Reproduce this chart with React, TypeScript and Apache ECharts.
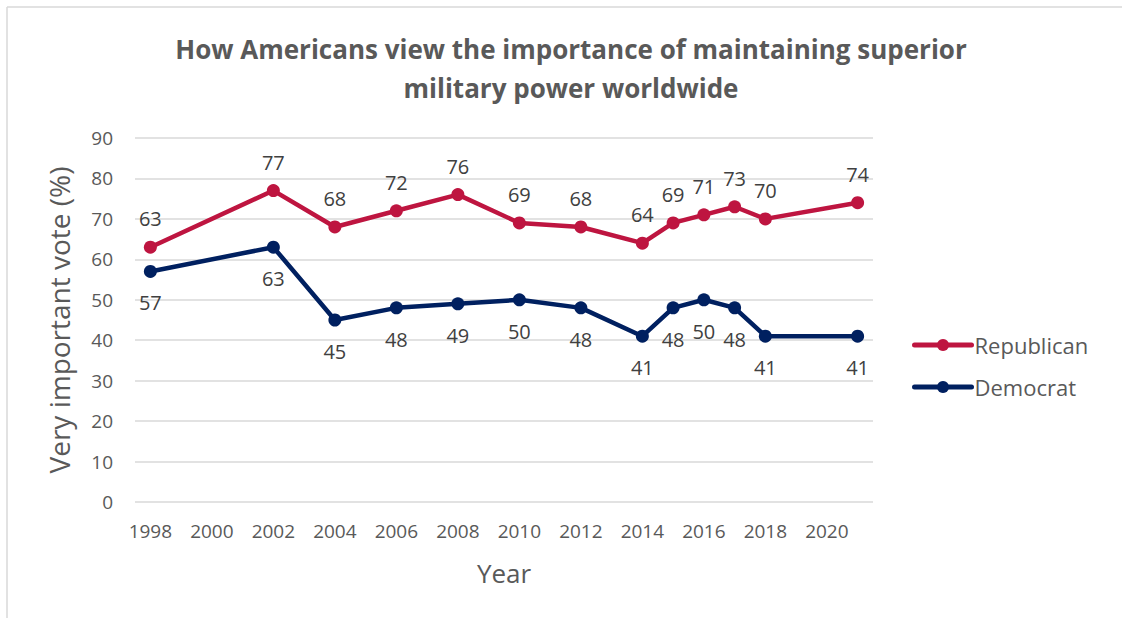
import React, { useEffect, useRef } from "react";
import * as echarts from "echarts";

const years = [1998, 2002, 2004, 2006, 2008, 2010, 2012, 2014, 2015, 2016, 2017, 2018, 2021];
const republican = [63, 77, 68, 72, 76, 69, 68, 64, 69, 71, 73, 70, 74];
const democrat = [57, 63, 45, 48, 49, 50, 48, 41, 48, 50, 48, 41, 41];
const xTickLabels = [1998, 2000, 2002, 2004, 2006, 2008, 2010, 2012, 2014, 2016, 2018, 2020];

const FONT = "'Open Sans', 'Noto Sans', sans-serif";
const GRAY = "#595959";

export default function App() {
  const ref = useRef<HTMLDivElement>(null);
  useEffect(() => {
    if (!ref.current) return;
    const chart = echarts.init(ref.current, undefined, { renderer: "svg" });
    const mk = (arr: number[]) => years.map((y, i) => [y, arr[i]]);
    chart.setOption({
      animation: false,
      backgroundColor: "#ffffff",
      textStyle: { fontFamily: FONT },
      title: {
        text: "How Americans view the importance of maintaining superior\nmilitary power worldwide",
        left: 566,
        textAlign: "center",
        top: 24,
        textStyle: {
          fontFamily: FONT,
          fontWeight: "bold",
          fontSize: 26,
          color: GRAY,
          lineHeight: 39,
        },
      },
      graphic: [
        { type: "line", shape: { x1: 7, y1: 7, x2: 1122, y2: 7 }, style: { stroke: "#d9d9d9", lineWidth: 1.5 } },
        { type: "line", shape: { x1: 7, y1: 7, x2: 7, y2: 618 }, style: { stroke: "#d9d9d9", lineWidth: 1.5 } },
      ],
      legend: {
        orient: "vertical",
        left: 907,
        top: 329,
        itemGap: 20,
        itemWidth: 57,
        itemHeight: 15,
        lineStyle: { width: 5, cap: "round" },
        textStyle: { fontFamily: FONT, fontSize: 22, color: GRAY, padding: [0, 0, 0, -2] },
        data: ["Republican", "Democrat"],
      },
      grid: { left: 135, right: 249, top: 138, bottom: 116 },
      xAxis: {
        type: "value",
        min: 1997.5,
        max: 2021.5,
        name: "Year",
        nameLocation: "middle",
        nameGap: 58,
        nameTextStyle: { fontFamily: FONT, fontSize: 26, color: GRAY },
        axisLine: { show: false },
        axisTick: { show: false },
        splitLine: { show: false },
        axisLabel: {
          customValues: xTickLabels,
          fontFamily: FONT,
          fontSize: 19,
          color: GRAY,
          margin: 19,
          formatter: (v: number) => String(v),
        },
      },
      yAxis: {
        type: "value",
        min: 0,
        max: 90,
        interval: 10,
        name: "Very important vote (%)",
        nameLocation: "middle",
        nameGap: 62,
        nameTextStyle: { fontFamily: FONT, fontSize: 28, color: GRAY },
        axisLine: { show: false },
        axisTick: { show: false },
        axisLabel: { fontFamily: FONT, fontSize: 19, color: GRAY, margin: 22 },
        splitLine: { lineStyle: { color: "#d9d9d9", width: 1.5 } },
      },
      series: [
        {
          name: "Republican",
          type: "line",
          data: mk(republican),
          symbol: "circle",
          symbolSize: 13,
          lineStyle: { width: 4.5, color: "#be1540" },
          itemStyle: { color: "#be1540" },
          label: {
            show: true,
            position: "top",
            distance: 12,
            fontFamily: FONT,
            fontSize: 20,
            color: "#404040",
            formatter: (p: any) => String(p.value[1]),
          },
        },
        {
          name: "Democrat",
          type: "line",
          data: mk(democrat),
          symbol: "circle",
          symbolSize: 13,
          lineStyle: { width: 4.5, color: "#002060" },
          itemStyle: { color: "#002060" },
          label: {
            show: true,
            position: "bottom",
            distance: 15,
            fontFamily: FONT,
            fontSize: 20,
            color: "#404040",
            formatter: (p: any) => String(p.value[1]),
          },
        },
      ],
    });
    return () => chart.dispose();
  }, []);
  return (
    <div
      ref={ref}
      style={{ position: "fixed", left: 0, top: 0, width: 1122, height: 618 }}
    />
  );
}
